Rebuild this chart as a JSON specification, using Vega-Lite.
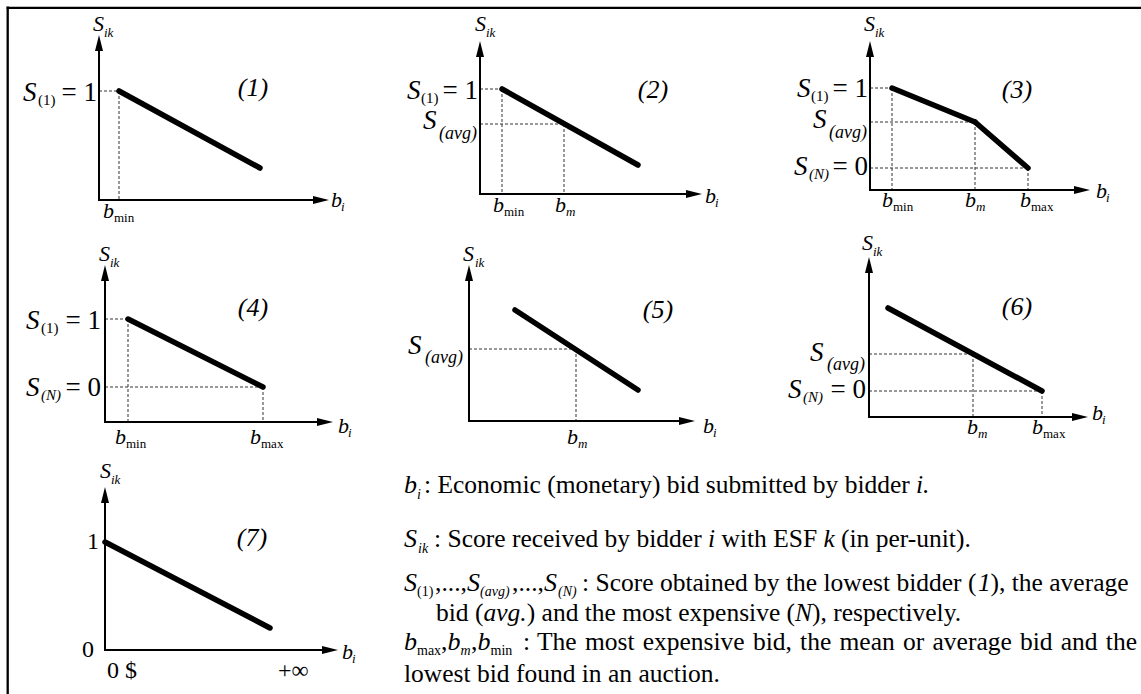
{
  "$schema": "https://vega.github.io/schema/vega-lite/v6.json",
  "width": 1141,
  "height": 694,
  "autosize": {"type": "none"},
  "padding": 0,
  "background": "white",
  "config": {"view": {"stroke": null}},
  "datasets": {
    "segs": [
      {"kind": "frame", "x": 6.6, "y": 7.8, "x2": 1141, "y2": 7.8},
      {"kind": "frame", "x": 7.7, "y": 6.6, "x2": 7.7, "y2": 694},

      {"kind": "axis", "x": 99, "y": 201, "x2": 99, "y2": 46},
      {"kind": "axis", "x": 98, "y": 200, "x2": 321, "y2": 200},
      {"kind": "score", "x": 119, "y": 91, "x2": 260, "y2": 168},
      {"kind": "dash", "x": 99, "y": 91, "x2": 119, "y2": 91},
      {"kind": "dash", "x": 119, "y": 91, "x2": 119, "y2": 200},

      {"kind": "axis", "x": 480, "y": 195, "x2": 480, "y2": 50},
      {"kind": "axis", "x": 479, "y": 194, "x2": 694, "y2": 194},
      {"kind": "score", "x": 502, "y": 89, "x2": 638, "y2": 165},
      {"kind": "dash", "x": 480, "y": 89, "x2": 502, "y2": 89},
      {"kind": "dash", "x": 502, "y": 89, "x2": 502, "y2": 194},
      {"kind": "dash", "x": 480, "y": 124, "x2": 564, "y2": 124},
      {"kind": "dash", "x": 564, "y": 124, "x2": 564, "y2": 194},

      {"kind": "axis", "x": 870, "y": 191, "x2": 870, "y2": 50},
      {"kind": "axis", "x": 869, "y": 190, "x2": 1082, "y2": 190},
      {"kind": "score", "x": 892, "y": 88, "x2": 975, "y2": 122},
      {"kind": "score", "x": 975, "y": 122, "x2": 1028, "y2": 168},
      {"kind": "dash", "x": 870, "y": 88, "x2": 892, "y2": 88},
      {"kind": "dash", "x": 892, "y": 88, "x2": 892, "y2": 190},
      {"kind": "dash", "x": 870, "y": 122, "x2": 975, "y2": 122},
      {"kind": "dash", "x": 975, "y": 122, "x2": 975, "y2": 190},
      {"kind": "dash", "x": 870, "y": 168, "x2": 1028, "y2": 168},
      {"kind": "dash", "x": 1028, "y": 168, "x2": 1028, "y2": 190},

      {"kind": "axis", "x": 105, "y": 423, "x2": 105, "y2": 274},
      {"kind": "axis", "x": 104, "y": 422, "x2": 325, "y2": 422},
      {"kind": "score", "x": 128, "y": 319, "x2": 263, "y2": 387},
      {"kind": "dash", "x": 105, "y": 319, "x2": 128, "y2": 319},
      {"kind": "dash", "x": 128, "y": 319, "x2": 128, "y2": 422},
      {"kind": "dash", "x": 105, "y": 387, "x2": 263, "y2": 387},
      {"kind": "dash", "x": 263, "y": 387, "x2": 263, "y2": 422},

      {"kind": "axis", "x": 469, "y": 422, "x2": 469, "y2": 274},
      {"kind": "axis", "x": 468, "y": 421, "x2": 687, "y2": 421},
      {"kind": "score", "x": 515, "y": 310, "x2": 638, "y2": 390},
      {"kind": "dash", "x": 469, "y": 349, "x2": 576, "y2": 349},
      {"kind": "dash", "x": 576, "y": 349, "x2": 576, "y2": 421},

      {"kind": "axis", "x": 869, "y": 418, "x2": 869, "y2": 266},
      {"kind": "axis", "x": 868, "y": 417, "x2": 1080, "y2": 417},
      {"kind": "score", "x": 888, "y": 308, "x2": 1042, "y2": 391},
      {"kind": "dash", "x": 869, "y": 354, "x2": 973, "y2": 354},
      {"kind": "dash", "x": 973, "y": 354, "x2": 973, "y2": 417},
      {"kind": "dash", "x": 869, "y": 391, "x2": 1042, "y2": 391},
      {"kind": "dash", "x": 1042, "y": 391, "x2": 1042, "y2": 417},

      {"kind": "axis", "x": 105, "y": 651, "x2": 105, "y2": 496},
      {"kind": "axis", "x": 104, "y": 650, "x2": 330, "y2": 650},
      {"kind": "score", "x": 105, "y": 542, "x2": 270, "y2": 628}
    ],
    "arrows": [
      {"dir": "up", "x": 99, "y": 35},
      {"dir": "up", "x": 480, "y": 41},
      {"dir": "up", "x": 870, "y": 41},
      {"dir": "up", "x": 105, "y": 265},
      {"dir": "up", "x": 469, "y": 265},
      {"dir": "up", "x": 869, "y": 257},
      {"dir": "up", "x": 105, "y": 487},
      {"dir": "right", "x": 329, "y": 200},
      {"dir": "right", "x": 702, "y": 194},
      {"dir": "right", "x": 1090, "y": 190},
      {"dir": "right", "x": 333, "y": 422},
      {"dir": "right", "x": 695, "y": 421},
      {"dir": "right", "x": 1088, "y": 417},
      {"dir": "right", "x": 338, "y": 650}
    ],
    "texts": [
      {"t": "S", "x": 93, "y": 31, "r": "var"},
      {"t": "ik", "x": 104, "y": 37, "r": "subi"},
      {"t": "S", "x": 23, "y": 101, "r": "bigS"},
      {"t": "(1)", "x": 38, "y": 105, "r": "sub1"},
      {"t": "= 1", "x": 97, "y": 101, "r": "eq"},
      {"t": "(1)", "x": 253, "y": 96, "r": "tag"},
      {"t": "b", "x": 331, "y": 207, "r": "var"},
      {"t": "i", "x": 341, "y": 211, "r": "subi"},
      {"t": "b", "x": 103, "y": 218, "r": "var"},
      {"t": "min", "x": 114, "y": 222, "r": "subn"},

      {"t": "S", "x": 475, "y": 31, "r": "var"},
      {"t": "ik", "x": 486, "y": 37, "r": "subi"},
      {"t": "S", "x": 407, "y": 99, "r": "bigS"},
      {"t": "(1)", "x": 421, "y": 103, "r": "sub1"},
      {"t": "= 1", "x": 478, "y": 99, "r": "eq"},
      {"t": "S", "x": 423, "y": 129, "r": "bigS"},
      {"t": "(avg)", "x": 439, "y": 139, "r": "subavg"},
      {"t": "(2)", "x": 653, "y": 98, "r": "tag"},
      {"t": "b", "x": 705, "y": 203, "r": "var"},
      {"t": "i", "x": 715, "y": 207, "r": "subi"},
      {"t": "b", "x": 493, "y": 212, "r": "var"},
      {"t": "min", "x": 504, "y": 216, "r": "subn"},
      {"t": "b", "x": 555, "y": 212, "r": "var"},
      {"t": "m", "x": 566, "y": 216, "r": "subi"},

      {"t": "S", "x": 864, "y": 31, "r": "var"},
      {"t": "ik", "x": 875, "y": 37, "r": "subi"},
      {"t": "S", "x": 797, "y": 97, "r": "bigS"},
      {"t": "(1)", "x": 811, "y": 101, "r": "sub1"},
      {"t": "= 1", "x": 868, "y": 97, "r": "eq"},
      {"t": "S", "x": 813, "y": 128, "r": "bigS"},
      {"t": "(avg)", "x": 829, "y": 138, "r": "subavg"},
      {"t": "S", "x": 794, "y": 175, "r": "bigS"},
      {"t": "(N)", "x": 809, "y": 179, "r": "subN"},
      {"t": "= 0", "x": 868, "y": 175, "r": "eq"},
      {"t": "(3)", "x": 1017, "y": 98, "r": "tag"},
      {"t": "b", "x": 882, "y": 207, "r": "var"},
      {"t": "min", "x": 893, "y": 211, "r": "subn"},
      {"t": "b", "x": 965, "y": 207, "r": "var"},
      {"t": "m", "x": 976, "y": 211, "r": "subi"},
      {"t": "b", "x": 1020, "y": 207, "r": "var"},
      {"t": "max", "x": 1031, "y": 211, "r": "subn"},
      {"t": "b", "x": 1096, "y": 198, "r": "var"},
      {"t": "i", "x": 1106, "y": 202, "r": "subi"},

      {"t": "S", "x": 99, "y": 261, "r": "var"},
      {"t": "ik", "x": 110, "y": 267, "r": "subi"},
      {"t": "S", "x": 26, "y": 329, "r": "bigS"},
      {"t": "(1)", "x": 41, "y": 333, "r": "sub1"},
      {"t": "= 1", "x": 101, "y": 329, "r": "eq"},
      {"t": "S", "x": 26, "y": 396, "r": "bigS"},
      {"t": "(N)", "x": 41, "y": 400, "r": "subN"},
      {"t": "= 0", "x": 101, "y": 396, "r": "eq"},
      {"t": "(4)", "x": 253, "y": 316, "r": "tag"},
      {"t": "b", "x": 338, "y": 433, "r": "var"},
      {"t": "i", "x": 348, "y": 437, "r": "subi"},
      {"t": "b", "x": 115, "y": 444, "r": "var"},
      {"t": "min", "x": 126, "y": 448, "r": "subn"},
      {"t": "b", "x": 250, "y": 444, "r": "var"},
      {"t": "max", "x": 261, "y": 448, "r": "subn"},

      {"t": "S", "x": 463, "y": 261, "r": "var"},
      {"t": "ik", "x": 475, "y": 267, "r": "subi"},
      {"t": "S", "x": 408, "y": 354, "r": "bigS"},
      {"t": "(avg)", "x": 425, "y": 363, "r": "subavg"},
      {"t": "(5)", "x": 658, "y": 318, "r": "tag"},
      {"t": "b", "x": 567, "y": 444, "r": "var"},
      {"t": "m", "x": 578, "y": 448, "r": "subi"},
      {"t": "b", "x": 703, "y": 433, "r": "var"},
      {"t": "i", "x": 713, "y": 437, "r": "subi"},

      {"t": "S", "x": 862, "y": 250, "r": "var"},
      {"t": "ik", "x": 873, "y": 256, "r": "subi"},
      {"t": "S", "x": 810, "y": 361, "r": "bigS"},
      {"t": "(avg)", "x": 827, "y": 370, "r": "subavg"},
      {"t": "S", "x": 788, "y": 398, "r": "bigS"},
      {"t": "(N)", "x": 803, "y": 402, "r": "subN"},
      {"t": "= 0", "x": 866, "y": 398, "r": "eq"},
      {"t": "(6)", "x": 1017, "y": 315, "r": "tag"},
      {"t": "b", "x": 967, "y": 434, "r": "var"},
      {"t": "m", "x": 978, "y": 438, "r": "subi"},
      {"t": "b", "x": 1032, "y": 434, "r": "var"},
      {"t": "max", "x": 1043, "y": 438, "r": "subn"},
      {"t": "b", "x": 1092, "y": 420, "r": "var"},
      {"t": "i", "x": 1102, "y": 424, "r": "subi"},

      {"t": "S", "x": 100, "y": 478, "r": "var"},
      {"t": "ik", "x": 111, "y": 484, "r": "subi"},
      {"t": "1", "x": 87, "y": 549, "r": "num"},
      {"t": "0", "x": 82, "y": 657, "r": "num"},
      {"t": "0 $", "x": 107, "y": 678, "r": "num"},
      {"t": "+∞", "x": 278, "y": 678, "r": "num"},
      {"t": "(7)", "x": 252, "y": 546, "r": "tag"},
      {"t": "b", "x": 342, "y": 659, "r": "var"},
      {"t": "i", "x": 352, "y": 663, "r": "subi"},

      {"t": "b", "x": 404, "y": 493, "r": "lvar"},
      {"t": "i", "x": 417, "y": 499, "r": "lsubi"},
      {"t": ": Economic (monetary) bid submitted by bidder", "x": 424, "y": 493, "r": "lt"},
      {"t": "i.", "x": 916, "y": 493, "r": "lit"},

      {"t": "S", "x": 404, "y": 547, "r": "lvar"},
      {"t": "ik", "x": 418, "y": 553, "r": "lsubi"},
      {"t": ": Score received by bidder", "x": 434, "y": 547, "r": "lt"},
      {"t": "i", "x": 708, "y": 547, "r": "lit"},
      {"t": "with ESF", "x": 721.5, "y": 547, "r": "lt"},
      {"t": "k", "x": 823.5, "y": 547, "r": "lit"},
      {"t": "(in per-unit).", "x": 841, "y": 547, "r": "lt"},

      {"t": "S", "x": 404, "y": 591, "r": "lvar"},
      {"t": "(1)", "x": 417, "y": 596, "r": "lsubn"},
      {"t": ",...,", "x": 435, "y": 591, "r": "lt"},
      {"t": "S", "x": 467, "y": 591, "r": "lvar"},
      {"t": "(avg)", "x": 480, "y": 596, "r": "lsubi"},
      {"t": ",...,", "x": 512, "y": 591, "r": "lt"},
      {"t": "S", "x": 544, "y": 591, "r": "lvar"},
      {"t": "(N)", "x": 558, "y": 596, "r": "lsubi"},
      {"t": ": Score obtained by the lowest bidder (", "x": 582, "y": 591, "r": "lt"},
      {"t": "1", "x": 978, "y": 591, "r": "lit"},
      {"t": "), the average", "x": 990.5, "y": 591, "r": "lt"},

      {"t": "bid (", "x": 436, "y": 621, "r": "lt"},
      {"t": "avg.", "x": 483.5, "y": 621, "r": "lit"},
      {"t": ") and the most expensive (", "x": 526.7, "y": 621, "r": "lt"},
      {"t": "N", "x": 795, "y": 621, "r": "lit"},
      {"t": "), respectively.", "x": 812, "y": 621, "r": "lt"},

      {"t": "b", "x": 404, "y": 650, "r": "lvar"},
      {"t": "max", "x": 417, "y": 655, "r": "lsubn"},
      {"t": ",", "x": 441, "y": 650, "r": "lt"},
      {"t": "b", "x": 447.5, "y": 650, "r": "lvar"},
      {"t": "m", "x": 460.5, "y": 655, "r": "lsubi"},
      {"t": ",", "x": 471, "y": 650, "r": "lt"},
      {"t": "b", "x": 477.5, "y": 650, "r": "lvar"},
      {"t": "min", "x": 490.5, "y": 655, "r": "lsubn"},
      {"t": ":", "x": 523, "y": 650, "r": "lt"},
      {"t": "The", "x": 537, "y": 650, "r": "lt"},
      {"t": "most", "x": 584.9, "y": 650, "r": "lt"},
      {"t": "expensive", "x": 642.7, "y": 650, "r": "lt"},
      {"t": "bid,", "x": 752.9, "y": 650, "r": "lt"},
      {"t": "the", "x": 800.1, "y": 650, "r": "lt"},
      {"t": "mean", "x": 839.5, "y": 650, "r": "lt"},
      {"t": "or", "x": 903, "y": 650, "r": "lt"},
      {"t": "average", "x": 932.5, "y": 650, "r": "lt"},
      {"t": "bid", "x": 1020, "y": 650, "r": "lt"},
      {"t": "and", "x": 1060.8, "y": 650, "r": "lt"},
      {"t": "the", "x": 1105.8, "y": 650, "r": "lt"},

      {"t": "lowest bid found in an auction.", "x": 404, "y": 682, "r": "lt"}
    ]
  },
  "encoding": {
    "x": {"field": "x", "type": "quantitative", "scale": {"domain": [0, 1141], "nice": false, "zero": false}, "axis": null},
    "y": {"field": "y", "type": "quantitative", "scale": {"domain": [0, 694], "nice": false, "zero": false, "reverse": true}, "axis": null}
  },
  "layer": [
    {"data": {"name": "segs"}, "transform": [{"filter": "datum.kind === 'frame'"}],
     "mark": {"type": "rule", "strokeWidth": 2.3, "color": "black"},
     "encoding": {"x2": {"field": "x2"}, "y2": {"field": "y2"}}},
    {"data": {"name": "segs"}, "transform": [{"filter": "datum.kind === 'dash'"}],
     "mark": {"type": "rule", "strokeWidth": 1, "color": "#333333", "strokeDash": [3, 2]},
     "encoding": {"x2": {"field": "x2"}, "y2": {"field": "y2"}}},
    {"data": {"name": "segs"}, "transform": [{"filter": "datum.kind === 'axis'"}],
     "mark": {"type": "rule", "strokeWidth": 2, "color": "black"},
     "encoding": {"x2": {"field": "x2"}, "y2": {"field": "y2"}}},
    {"data": {"name": "segs"}, "transform": [{"filter": "datum.kind === 'score'"}],
     "mark": {"type": "rule", "strokeWidth": 5.5, "strokeCap": "round", "color": "black"},
     "encoding": {"x2": {"field": "x2"}, "y2": {"field": "y2"}}},
    {"data": {"name": "arrows"}, "transform": [{"filter": "datum.dir === 'up'"}],
     "mark": {"type": "point", "shape": "M0,0L-0.5,2L0.5,2Z", "size": 256, "filled": true, "color": "black", "opacity": 1, "strokeWidth": 0}},
    {"data": {"name": "arrows"}, "transform": [{"filter": "datum.dir === 'right'"}],
     "mark": {"type": "point", "shape": "M0,0L-2,-0.5L-2,0.5Z", "size": 256, "filled": true, "color": "black", "opacity": 1, "strokeWidth": 0}},

    {"data": {"name": "texts"}, "transform": [{"filter": "datum.r === 'var'"}],
     "mark": {"type": "text", "font": "Liberation Serif", "fontSize": 22, "fontStyle": "italic", "align": "left", "baseline": "alphabetic", "color": "black"},
     "encoding": {"text": {"field": "t"}}},
    {"data": {"name": "texts"}, "transform": [{"filter": "datum.r === 'subi'"}],
     "mark": {"type": "text", "font": "Liberation Serif", "fontSize": 13, "fontStyle": "italic", "align": "left", "baseline": "alphabetic", "color": "black"},
     "encoding": {"text": {"field": "t"}}},
    {"data": {"name": "texts"}, "transform": [{"filter": "datum.r === 'subn'"}],
     "mark": {"type": "text", "font": "Liberation Serif", "fontSize": 13, "align": "left", "baseline": "alphabetic", "color": "black"},
     "encoding": {"text": {"field": "t"}}},
    {"data": {"name": "texts"}, "transform": [{"filter": "datum.r === 'bigS'"}],
     "mark": {"type": "text", "font": "Liberation Serif", "fontSize": 27, "fontStyle": "italic", "align": "left", "baseline": "alphabetic", "color": "black"},
     "encoding": {"text": {"field": "t"}}},
    {"data": {"name": "texts"}, "transform": [{"filter": "datum.r === 'sub1'"}],
     "mark": {"type": "text", "font": "Liberation Serif", "fontSize": 15, "align": "left", "baseline": "alphabetic", "color": "black"},
     "encoding": {"text": {"field": "t"}}},
    {"data": {"name": "texts"}, "transform": [{"filter": "datum.r === 'subN'"}],
     "mark": {"type": "text", "font": "Liberation Serif", "fontSize": 15, "fontStyle": "italic", "align": "left", "baseline": "alphabetic", "color": "black"},
     "encoding": {"text": {"field": "t"}}},
    {"data": {"name": "texts"}, "transform": [{"filter": "datum.r === 'subavg'"}],
     "mark": {"type": "text", "font": "Liberation Serif", "fontSize": 18, "fontStyle": "italic", "align": "left", "baseline": "alphabetic", "color": "black"},
     "encoding": {"text": {"field": "t"}}},
    {"data": {"name": "texts"}, "transform": [{"filter": "datum.r === 'eq'"}],
     "mark": {"type": "text", "font": "Liberation Serif", "fontSize": 27, "align": "right", "baseline": "alphabetic", "color": "black"},
     "encoding": {"text": {"field": "t"}}},
    {"data": {"name": "texts"}, "transform": [{"filter": "datum.r === 'tag'"}],
     "mark": {"type": "text", "font": "Liberation Serif", "fontSize": 26, "fontStyle": "italic", "align": "center", "baseline": "alphabetic", "color": "black"},
     "encoding": {"text": {"field": "t"}}},
    {"data": {"name": "texts"}, "transform": [{"filter": "datum.r === 'num'"}],
     "mark": {"type": "text", "font": "Liberation Serif", "fontSize": 24, "align": "left", "baseline": "alphabetic", "color": "black"},
     "encoding": {"text": {"field": "t"}}},
    {"data": {"name": "texts"}, "transform": [{"filter": "datum.r === 'lt'"}],
     "mark": {"type": "text", "font": "Liberation Serif", "fontSize": 25.5, "align": "left", "baseline": "alphabetic", "color": "black"},
     "encoding": {"text": {"field": "t"}}},
    {"data": {"name": "texts"}, "transform": [{"filter": "datum.r === 'lit'"}],
     "mark": {"type": "text", "font": "Liberation Serif", "fontSize": 25.5, "fontStyle": "italic", "align": "left", "baseline": "alphabetic", "color": "black"},
     "encoding": {"text": {"field": "t"}}},
    {"data": {"name": "texts"}, "transform": [{"filter": "datum.r === 'lvar'"}],
     "mark": {"type": "text", "font": "Liberation Serif", "fontSize": 26, "fontStyle": "italic", "align": "left", "baseline": "alphabetic", "color": "black"},
     "encoding": {"text": {"field": "t"}}},
    {"data": {"name": "texts"}, "transform": [{"filter": "datum.r === 'lsubi'"}],
     "mark": {"type": "text", "font": "Liberation Serif", "fontSize": 14, "fontStyle": "italic", "align": "left", "baseline": "alphabetic", "color": "black"},
     "encoding": {"text": {"field": "t"}}},
    {"data": {"name": "texts"}, "transform": [{"filter": "datum.r === 'lsubn'"}],
     "mark": {"type": "text", "font": "Liberation Serif", "fontSize": 14, "align": "left", "baseline": "alphabetic", "color": "black"},
     "encoding": {"text": {"field": "t"}}}
  ]
}
